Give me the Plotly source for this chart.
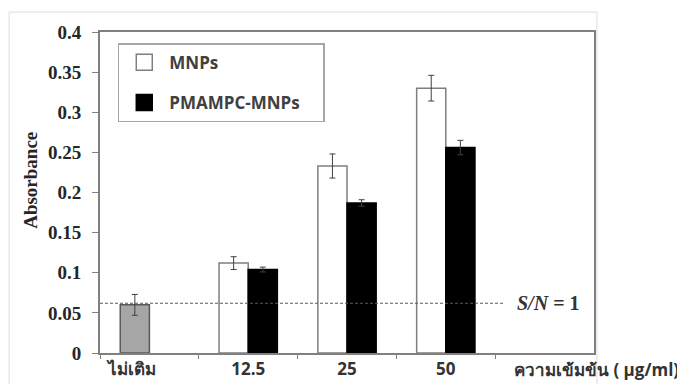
import plotly.graph_objects as go

categories = ["ไม่เติม", "12.5", "25", "50"]
tick_text = ["ไม่เติม" + "\u00a0" * 8, "12.5", "25", "50"]
mnps = [0.060, 0.112, 0.233, 0.330]
mnps_err = [0.013, 0.008, 0.015, 0.016]
pmampc = [None, 0.104, 0.187, 0.256]
pmampc_err = [0, 0.003, 0.004, 0.009]
mnps_colors = ["#a6a6a6", "white", "white", "white"]
mnps_lines = ["#595959", "#7f7f7f", "#7f7f7f", "#7f7f7f"]
sn_level = 0.062
y_ticks = [0, 0.05, 0.1, 0.15, 0.2, 0.25, 0.3, 0.35, 0.4]

SERIF = "Liberation Serif, Times New Roman, serif"
SANS = "Open Sans, DejaVu Sans, sans-serif"

fig = go.Figure()
fig.add_trace(go.Bar(
    x=categories, y=mnps, name="MNPs", showlegend=False,
    marker=dict(color=mnps_colors, line=dict(color=mnps_lines, width=1.5)),
    error_y=dict(type="data", array=mnps_err, color="#404040", thickness=1, width=3),
))
fig.add_trace(go.Bar(
    x=categories, y=pmampc, name="PMAMPC-MNPs", showlegend=False,
    marker=dict(color="black", line=dict(color="black", width=1.5)),
    error_y=dict(type="data", array=pmampc_err, color="#404040", thickness=1, width=3),
))
# legend entries
fig.add_trace(go.Scatter(
    x=[None], y=[None], mode="markers", name="MNPs", legendgroup="a",
    marker=dict(symbol="square", size=16, color="white", line=dict(color="#7f7f7f", width=1.5)),
))
fig.add_trace(go.Scatter(
    x=[None], y=[None], mode="markers", name="PMAMPC-MNPs" + "\u00a0" * 4, legendgroup="b",
    marker=dict(symbol="square", size=16, color="black", line=dict(color="black", width=1.5)),
))

fig.add_shape(type="line", xref="paper", yref="y", x0=0, x1=0.816, y0=sn_level, y1=sn_level,
              line=dict(color="#595959", width=1, dash="3px,2px"))
fig.add_annotation(xref="paper", yref="y", x=0.907, y=sn_level, xanchor="center", yanchor="middle",
                   text="<i>S/N</i> = 1", showarrow=False,
                   font=dict(family=SERIF, size=20, color="#333333", weight="bold"))
fig.add_annotation(xref="paper", yref="paper", x=0.834, y=-0.05, xanchor="left", yanchor="middle",
                   text="ความเข้มข้น ( µg/ml)", showarrow=False,
                   font=dict(family=SANS, size=17, color="#333333", weight="bold"))
fig.add_annotation(xref="paper", yref="paper", x=-0.14, y=0.539, xanchor="center", yanchor="middle",
                   text="Absorbance", textangle=-90, showarrow=False,
                   font=dict(family=SERIF, size=19, color="#262626", weight="bold"))
# outer chart frame
fig.add_shape(type="rect", xref="paper", yref="paper", x0=-0.184, x1=1.006, y0=-0.2, y1=1.062,
              line=dict(color="#dddddd", width=1), layer="below")

fig.update_layout(
    width=685, height=384,
    margin=dict(l=92, r=99, t=24, b=39),
    paper_bgcolor="white", plot_bgcolor="white",
    barmode="group", bargap=0.41, bargroupgap=0,
    legend=dict(x=0.036, y=0.965, xanchor="left", yanchor="top",
                bordercolor="#a6a6a6", borderwidth=1.5, bgcolor="white",
                font=dict(family=SANS, size=17, color="#404040", weight="bold"),
                traceorder="grouped", tracegroupgap=15, itemwidth=40),
    xaxis=dict(
        type="category", categoryorder="array", categoryarray=categories,
        tickvals=categories, ticktext=tick_text, automargin=False,
        range=[-0.5, 4.5], tickson="boundaries", ticks="outside", ticklen=4,
        tickcolor="#808080", showline=True, linecolor="#808080", linewidth=2, mirror=True,
        showgrid=False, zeroline=False,
        tickfont=dict(family=SANS, size=17, color="#333333", weight="bold"),
    ),
    yaxis=dict(
        range=[0, 0.4], tickvals=y_ticks, ticks="outside", ticklen=6, tickcolor="#808080",
        showline=True, linecolor="#808080", linewidth=2, mirror=True, automargin=False,
        showgrid=False, zeroline=False, ticklabelstandoff=7,
        tickfont=dict(family=SERIF, size=19, color="#262626", weight="bold"),
    ),
)

fig.write_html("out.html")
